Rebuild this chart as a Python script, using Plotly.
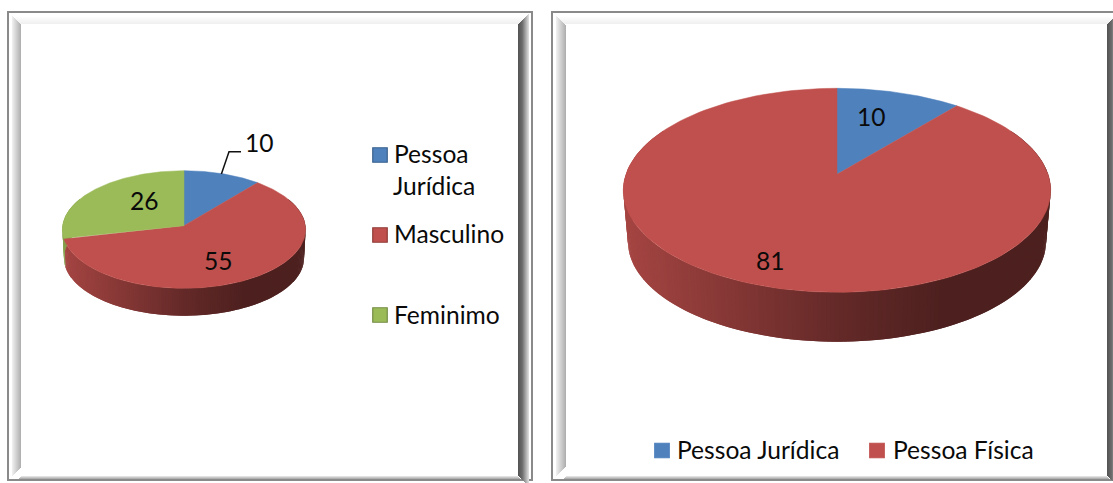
import numpy as np
import plotly.graph_objects as go

# ---- data ----
left_categories = ["Pessoa Jurídica", "Masculino", "Feminimo"]
left_values = [10, 55, 26]
right_categories = ["Pessoa Jurídica", "Pessoa Física"]
right_values = [10, 81]
colors = {"Pessoa Jurídica": "#4f81bd", "Masculino": "#c0504d",
          "Pessoa Física": "#c0504d", "Feminimo": "#9bbb59"}

# ---- geometry / style ----
FONT = "Lato"
FS = 24.6
TXT = "#0a0a0a"
W, H = 1113, 483
left_geo = dict(cx=184, cy=229.5, rx=121.6, ry=58.8, k=0.065, bcy=258, brx=120, bry=57.7)
right_geo = dict(cx=837, cy=190.3, rx=213.7, ry=102, k=0.157, bcy=241.7, brx=209, bry=100)

fig = go.Figure()


def rim(theta, cx, cy, rx, ry, k):
    """Project a point of the pie's circle (theta clockwise from 12 o'clock) with perspective."""
    u, v = np.sin(theta), np.cos(theta)
    w = 1 + k * v
    A = rx * np.sqrt(1 - k * k)
    B = ry * (1 - k * k)
    return cx + A * u / w, (cy - k * ry) - B * v / w


def shade(hexcol, f):
    r, g, b = int(hexcol[1:3], 16), int(hexcol[3:5], 16), int(hexcol[5:7], 16)
    return f"rgb({r*f:.0f},{g*f:.0f},{b*f:.0f})"


def pie3d(categories, values, g):
    total = sum(values)
    edges = np.concatenate([[0], np.cumsum(values)]) / total * 2 * np.pi
    step = np.radians(1.0)
    # side wall
    for i, c in enumerate(categories):
        t0, t1 = max(edges[i], np.radians(62)), min(edges[i + 1], np.radians(298))
        if t1 <= t0:
            continue
        n = max(1, int(np.degrees(t1 - t0)))
        ts = np.linspace(t0, t1, n + 1)
        for a, b in zip(ts[:-1], ts[1:]):
            b2 = min(b + step, t1)
            xa, ya = rim(np.linspace(a, b2, 3), g["cx"], g["cy"], g["rx"], g["ry"], g["k"])
            xb, yb = rim(np.linspace(b2, a, 3), g["cx"], g["bcy"], g["brx"], g["bry"], g["k"])
            frac = (rim((a + b) / 2, g["cx"], g["cy"], g["rx"], g["ry"], g["k"])[0] - g["cx"] + g["rx"]) / (2 * g["rx"])
            f = float(np.interp(frac, [0, 0.5, 0.75, 1], [0.86, 0.52, 0.40, 0.40]))
            col = shade(colors[c], f)
            fig.add_trace(go.Scatter(x=np.r_[xa, xb], y=np.r_[ya, yb], mode="lines", fill="toself",
                                     fillcolor=col, line=dict(color=col, width=0),
                                     hoverinfo="skip", showlegend=False))
    # top face
    apex = (g["cx"], g["cy"] - g["k"] * g["ry"])
    for i, c in enumerate(categories):
        ts = np.linspace(edges[i], edges[i + 1], 160)
        x, y = rim(ts, g["cx"], g["cy"], g["rx"], g["ry"], g["k"])
        fig.add_trace(go.Scatter(x=np.r_[apex[0], x, apex[0]], y=np.r_[apex[1], y, apex[1]],
                                 mode="lines", fill="toself", fillcolor=colors[c],
                                 line=dict(color=colors[c], width=0.5), name=c,
                                 hoverinfo="skip", showlegend=False))


pie3d(left_categories, left_values, left_geo)
pie3d(right_categories, right_values, right_geo)


def text(x, y, s, anchor="center"):
    fig.add_annotation(x=x, y=y - 1.5, text=s, showarrow=False, xanchor=anchor, yanchor="middle",
                       font=dict(family=FONT, size=FS, color=TXT), align="left",
                       xref="x", yref="y", borderpad=0, borderwidth=0)


def swatch(x, y, c, edge=True):
    lc = shade(colors[c], 0.75) if edge else colors[c]
    fig.add_trace(go.Scatter(x=[x], y=[y], mode="markers", hoverinfo="skip", showlegend=False,
                             marker=dict(symbol="square", size=14.5, color=colors[c],
                                         line=dict(color=lc, width=1.2))))


# data labels
text(259, 144, str(left_values[0]))
text(144, 201.5, str(left_values[2]))
text(218, 261.5, str(left_values[1]))
text(871, 117.5, str(right_values[0]))
text(770, 261.5, str(right_values[1]))
# leader line
fig.add_trace(go.Scatter(x=[221.4, 229, 241], y=[174, 151.7, 151.7], mode="lines",
                         line=dict(color="#111", width=1.5), hoverinfo="skip", showlegend=False))

# legends
swatch(380, 155, "Pessoa Jurídica")
swatch(380, 235, "Masculino")
swatch(380, 315, "Feminimo")
text(394, 155, "Pessoa", "left")
text(393, 187, "Jurídica", "left")
text(394, 235, "Masculino", "left")
text(394, 316, "Feminimo", "left")
swatch(662, 450.5, "Pessoa Jurídica", False)
swatch(877, 450.5, "Pessoa Física", False)
text(677, 450.5, "Pessoa Jurídica", "left")
text(893, 450.5, "Pessoa Física", "left")

# ---- frames ----
shapes = []


def rect(x0, y0, x1, y1, c):
    shapes.append(dict(type="rect", xref="x", yref="y", x0=x0, y0=y0, x1=x1, y1=y1,
                       fillcolor=c, line=dict(width=0), layer="below"))


def grey(v):
    v = int(v)
    return f"rgb({v},{v},{v})"


def frame(x0, y0, x1, y1, ix0, iy0, ix1, iy1):
    # outer line
    for a in [(x0 - 1, y0 - 1, x1 + 1, y0 + 1), (x0 - 1, y1 - 1, x1 + 1, y1 + 1),
              (x0 - 1, y0 - 1, x0 + 1, y1 + 1), (x1 - 1, y0 - 1, x1 + 1, y1 + 1)]:
        rect(*a, "#8a8a8a")
    # left bevel: pale outside, darker next to the panel
    n = ix0 - x0 - 4
    for i in range(n):
        rect(x0 + 4 + i, y0 + 4 + i, x0 + 5 + i, y1 - 4 - i, grey(np.interp(i / n, [0, 1], [238, 170])))
    # top bevel
    n = iy0 - y0 - 4
    for i in range(n):
        rect(x0 + 5 + i, y0 + 4 + i, x1 - 4 - i, y0 + 5 + i, grey(np.interp(i / n, [0, 1], [255, 238])))
    # right bevel: darkest next to the panel
    n = x1 - 3 - ix1
    for i in range(n):
        rect(ix1 + i, iy0 - i, ix1 + i + 1, iy1 + i, grey(np.interp(i / n, [0, 0.35, 1], [85, 110, 235])))
    # bottom bevel
    n = y1 - 1 - iy1
    for i in range(n):
        rect(ix0 - i, iy1 + i, ix1 + i, iy1 + i + 1, grey(np.interp(i / n, [0, 1], [225, 150])))


frame(8, 12, 532, 480, 21, 24, 518, 476)
frame(552, 12, 1122, 480, 566, 24, 1107, 476)

fig.update_layout(
    width=W, height=H, margin=dict(l=0, r=0, t=0, b=0),
    paper_bgcolor="white", plot_bgcolor="white", showlegend=False, shapes=shapes,
    xaxis=dict(range=[0, W], visible=False, fixedrange=True),
    yaxis=dict(range=[H, 0], visible=False, fixedrange=True),
)
fig.write_html("out.html", config=dict(displayModeBar=False),
               post_script="document.body.style.margin='0';document.body.style.overflow='hidden';")
